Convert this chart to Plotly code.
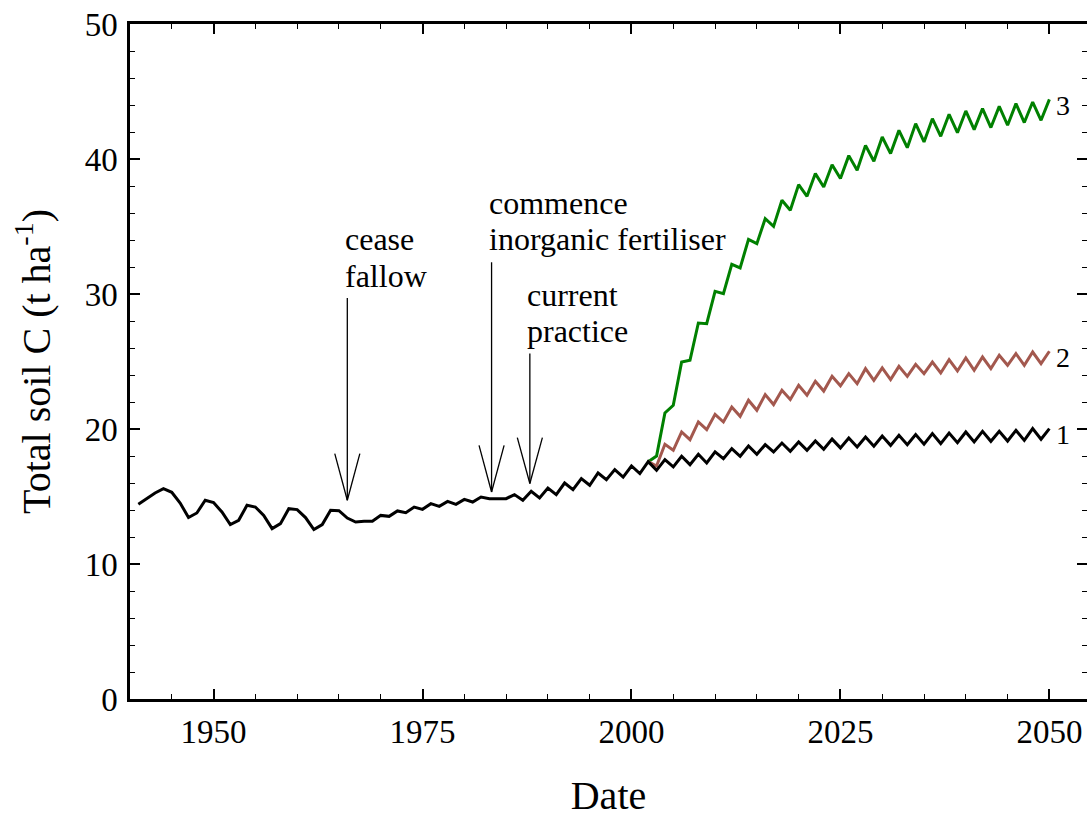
import plotly.graph_objects as go

# ---- data ----
years_black = list(range(1941, 2051))
soil_c_current = [
    14.42, 14.84, 15.26, 15.58, 15.31, 14.52, 13.44, 13.78, 14.72, 14.55,  # 1941-1950
    13.85, 12.92, 13.24, 14.35, 14.22, 13.60, 12.62, 12.99, 14.10, 14.03,  # 1951-1960
    13.44, 12.55, 12.92, 13.98, 13.95, 13.40, 13.11, 13.16, 13.16, 13.60,  # 1961-1970
    13.53, 13.93, 13.80, 14.22, 14.05, 14.47, 14.27, 14.64, 14.42, 14.79,  # 1971-1980
    14.59, 14.96, 14.84, 14.84, 14.84, 15.14, 14.72, 15.39, 14.89, 15.63,  # 1981-1990
    15.14, 16.00, 15.51, 16.33, 15.83, 16.74, 16.25, 16.99, 16.44, 17.26,  # 1991-2000
    16.70, 17.58, 16.94, 17.73, 17.19, 17.98, 17.36, 18.13, 17.48, 18.30,  # 2001-2010
    17.80, 18.55, 17.98, 18.74, 18.13, 18.84, 18.30, 18.96, 18.35, 19.04,  # 2011-2020
    18.42, 19.11, 18.50, 19.25, 18.60, 19.33, 18.67, 19.41, 18.72, 19.48,  # 2021-2030
    18.79, 19.53, 18.84, 19.59, 18.87, 19.66, 18.92, 19.70, 18.99, 19.78,  # 2031-2040
    19.04, 19.83, 19.09, 19.83, 19.11, 19.90, 19.16, 20.03, 19.24, 20.03,  # 2041-2050
]

years_scen = list(range(2002, 2051))
soil_c_scen2 = [
    17.58, 17.26, 18.87, 18.42, 19.78, 19.21, 20.52, 19.95, 21.09,         # 2002-2010
    20.52, 21.63, 20.94, 22.13, 21.39, 22.55, 21.81, 22.87, 22.18, 23.24,  # 2011-2020
    22.50, 23.53, 22.81, 23.90, 23.20, 24.10, 23.36, 24.47, 23.61, 24.52,  # 2021-2030
    23.66, 24.64, 23.90, 24.79, 24.10, 24.96, 24.15, 25.14, 24.30, 25.26,  # 2031-2040
    24.35, 25.33, 24.47, 25.46, 24.72, 25.58, 24.72, 25.70, 24.84, 25.76,  # 2041-2050
]
soil_c_scen3 = [
    17.58, 18.00, 21.19, 21.76, 24.96, 25.09, 27.85, 27.80, 30.20,         # 2002-2010
    30.03, 32.20, 31.93, 34.05, 33.73, 35.58, 35.01, 36.94, 36.20, 38.10,  # 2011-2020
    37.24, 38.92, 37.93, 39.58, 38.55, 40.25, 39.16, 41.01, 39.83, 41.63,  # 2021-2030
    40.40, 42.12, 40.84, 42.62, 41.26, 42.99, 41.68, 43.31, 41.95, 43.56,  # 2031-2040
    42.18, 43.73, 42.33, 43.90, 42.50, 44.10, 42.70, 44.22, 42.87, 44.42,  # 2041-2050
]

series_labels = ["1", "2", "3"]

# event annotations: (text lines, year of arrow)
event_lines = [["cease", "fallow"], ["commence", "inorganic fertiliser"], ["current", "practice"]]
event_years = [1966.0, 1983.26, 1987.84]

FONT = "Liberation Serif, 'Times New Roman', Times, serif"
BROWN = "rgb(163,88,78)"
GREEN = "rgb(0,128,0)"

fig = go.Figure()
fig.add_trace(go.Scatter(x=years_scen, y=soil_c_scen3, mode="lines",
                         line=dict(color=GREEN, width=3), showlegend=False))
fig.add_trace(go.Scatter(x=years_scen, y=soil_c_scen2, mode="lines",
                         line=dict(color=BROWN, width=3), showlegend=False))
fig.add_trace(go.Scatter(x=years_black, y=soil_c_current, mode="lines",
                         line=dict(color="black", width=3), showlegend=False))

annotations = []
# series end labels
for lab, ser in zip(series_labels, [soil_c_current, soil_c_scen2, soil_c_scen3]):
    annotations.append(dict(x=2050.6, y=ser[-1] - 0.45, xref="x", yref="y", text=lab,
                            showarrow=False, xanchor="left", yanchor="middle",
                            font=dict(family=FONT, size=28, color="black")))

# event text + arrows (layout positions)
text_y = [(34.05, 31.3), (36.75, 34.05), (29.9, 27.25)]
arrow_geom = [  # (line top, head top, tip)
    (29.7, 18.18, 14.72),
    (32.35, 18.79, 15.33),
    (25.6, 19.36, 15.96),
]
shapes = []
for lines, xv, ty, (top, head, tip) in zip(event_lines, event_years, text_y, arrow_geom):
    for t, yy in zip(lines, ty):
        annotations.append(dict(x=xv - 0.55, y=yy, xref="x", yref="y", text=t,
                                showarrow=False, xanchor="left", yanchor="middle",
                                font=dict(family=FONT, size=32, color="black")))
    lw = 1.3
    shapes.append(dict(type="line", xref="x", yref="y", x0=xv, x1=xv, y0=top, y1=tip,
                       line=dict(color="black", width=lw)))
    shapes.append(dict(type="line", xref="x", yref="y", x0=xv - 1.5, x1=xv, y0=head, y1=tip,
                       line=dict(color="black", width=lw)))
    shapes.append(dict(type="line", xref="x", yref="y", x0=xv + 1.5, x1=xv, y0=head, y1=tip,
                       line=dict(color="black", width=lw)))

fig.update_layout(
    width=1087, height=818,
    margin=dict(l=130, r=0, t=24, b=119, pad=0),
    plot_bgcolor="white", paper_bgcolor="white",
    font=dict(family=FONT, color="black"),
    annotations=annotations, shapes=shapes,
)
fig.update_xaxes(
    range=[1940, 2054.5], tick0=1950, dtick=25, ticks="inside", ticklen=10, tickwidth=1.5,
    tickcolor="black", showline=True, linewidth=2.5, linecolor="black", mirror="ticks",
    showgrid=False, zeroline=False, automargin=False,
    minor=dict(dtick=5, tick0=1950, ticks="inside", ticklen=5, tickwidth=1.2, tickcolor="black"),
    tickfont=dict(family=FONT, size=33, color="black"), ticklabelstandoff=2,
    title=dict(text="Date", font=dict(family=FONT, size=40, color="black"), standoff=47),
)
fig.update_yaxes(
    range=[0, 50], tick0=0, dtick=10, ticks="inside", ticklen=10, tickwidth=1.5,
    tickcolor="black", showline=True, linewidth=2.5, linecolor="black", mirror="ticks",
    showgrid=False, zeroline=False, automargin=False,
    minor=dict(dtick=2, ticks="inside", ticklen=5, tickwidth=1.2, tickcolor="black"),
    tickfont=dict(family=FONT, size=33, color="black"), ticklabelstandoff=3,
    title=dict(text="Total soil C (t ha<sup>-1</sup>)", font=dict(family=FONT, size=40, color="black"),
               standoff=22),
)

fig.write_html("out.html")
